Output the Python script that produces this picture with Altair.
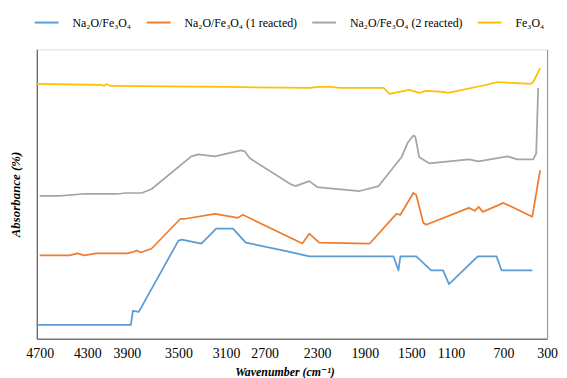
import altair as alt
import pandas as pd

S1 = "Na₂O/Fe₃O₄"
S2 = "Na₂O/Fe₃O₄ (1 reacted)"
S3 = "Na₂O/Fe₃O₄ (2 reacted)"
S4 = "Fe₃O₄"
series_names = [S1, S2, S3, S4]
series_colors = ["#5B9BD5", "#ED7D31", "#A5A5A5", "#FFC000"]

# wavenumber (cm-1) and absorbance (arbitrary units, offset traces)
wn_1 = [4725, 3869, 3854, 3808, 3500, 3470, 3308, 3240, 3183, 3028, 2895, 2526, 2360,
        1653, 1611, 1594, 1450, 1300, 1180, 1120, 896, 753, 715, 436]
ab_1 = [14, 14, 28, 27, 99, 100, 96, 104, 111, 111, 97, 88, 83,
        83, 69, 83, 83, 69, 69, 55, 83, 83, 69, 69]

wn_2 = [4700, 4450, 4383, 4325, 4210, 3900, 3862, 3823, 3792, 3708, 3483, 3442,
        3192, 2977, 2926, 2413, 2360, 2283, 1857, 1628, 1594, 1480, 1450, 1380,
        1350, 964, 919, 889, 858, 700, 436, 364]
ab_2 = [84, 84, 86, 84, 86, 86, 87, 89, 87, 91, 121, 121,
        126, 122, 125, 96, 106, 97, 96, 126, 125, 147, 145, 117,
        115, 132, 129, 133, 128, 137, 123, 170]

wn_3 = [4700, 4533, 4342, 4000, 3910, 3785, 3708, 3392, 3333, 3192, 2946, 2905,
        2854, 2504, 2466, 2360, 2300, 2217, 1942, 1781, 1585, 1530, 1480, 1460,
        1420, 1320, 964, 889, 664, 573, 427, 400, 382]
ab_3 = [144, 144, 146, 146, 147, 147, 151, 184, 186, 184, 190, 189,
        182, 156, 154, 159, 153, 152, 149, 154, 183, 198, 205, 204,
        183, 177, 181, 179, 184, 181, 181, 187, 253]

wn_4 = [4725, 4150, 4130, 4110, 4060, 3079, 2360, 2283, 2192, 2108, 1738, 1687,
        1517, 1420, 1350, 1180, 1130, 836, 745, 455, 427, 364]
ab_4 = [257, 256, 255, 257, 255, 254, 253, 254, 254, 253, 253, 247,
        251, 248, 250, 249, 248, 256, 259, 257, 259, 273]

tick_values = [4700, 4300, 3900, 3500, 3100, 2700, 2300, 1900, 1500, 1100, 700, 300]
scale_domain = [4725] + tick_values
scale_range = [0, 3, 51, 91, 143, 191, 230, 283, 331, 378, 418, 471, 515]

rows = []
for name, wns, abs_ in [(S1, wn_1, ab_1), (S2, wn_2, ab_2), (S3, wn_3, ab_3), (S4, wn_4, ab_4)]:
    for w, a in zip(wns, abs_):
        rows.append({"series": name, "wn": w, "ab": a})
df = pd.DataFrame(rows)

FONT = "'Liberation Serif', 'Times New Roman', 'DejaVu Serif', serif"

xscale = alt.Scale(domain=scale_domain, range=scale_range, nice=False, zero=False)
yscale = alt.Scale(domain=[0, 292], nice=False, zero=False)

x_enc = alt.X("wn:Q", scale=xscale,
              axis=alt.Axis(values=tick_values, format="d", grid=False, ticks=False, tickSize=0,
                            labelFont=FONT, labelFontSize=14, labelColor="#000000", labelPadding=8,
                            labelFlush=False, labelOverlap=False,
                            domainColor="#404040", domainWidth=1,
                            title="Wavenumber (cm⁻¹)", titleFont=FONT, titleFontSize=12,
                            titleFontWeight="bold", titleFontStyle="italic", titleColor="#000000",
                            titleX=250, titleY=37, titleBaseline="alphabetic", titleAlign="center"))

lines = alt.Chart(df).mark_line(strokeWidth=1.75, clip=False, strokeJoin="round").encode(
    x=x_enc,
    y=alt.Y("ab:Q", scale=yscale,
            axis=alt.Axis(grid=False, ticks=False, labels=False, domainColor="#404040", domainWidth=1,
                          title="Absorbance (%)", titleFont=FONT, titleFontSize=13,
                          titleFontWeight="bold", titleFontStyle="italic", titleColor="#000000",
                          titleX=-21, titleY=146, titleBaseline="middle", titleAlign="center",
                          titleAngle=270)),
    color=alt.Color("series:N", scale=alt.Scale(domain=series_names, range=series_colors),
                    legend=alt.Legend(orient="none", legendX=-3, legendY=-40, direction="horizontal",
                                      title=None, symbolType="stroke", symbolSize=576,
                                      symbolStrokeWidth=2, labelOffset=13, columnPadding=11,
                                      labelFont=FONT, labelFontSize=12, labelColor="#000000",
                                      padding=0)),
    order=alt.Order("wn:Q"),
)

right = alt.Chart(df).mark_point(opacity=0).encode(
    x=alt.X("wn:Q", scale=xscale),
    y=alt.Y("ab:Q", scale=yscale,
            axis=alt.Axis(orient="right", grid=False, ticks=False, labels=False,
                          domainColor="#8C8C8C", domainWidth=1, title=None)),
)

chart = alt.layer(lines, right).resolve_axis(y="independent").properties(
    width=515, height=292,
    autosize=alt.AutoSizeParams(type="none"),
    padding={"left": 29, "top": 40, "right": 12, "bottom": 38},
).configure_view(strokeWidth=0).configure(background="#ffffff")

chart.save("out.html", embed_options={"renderer": "svg", "actions": False})
